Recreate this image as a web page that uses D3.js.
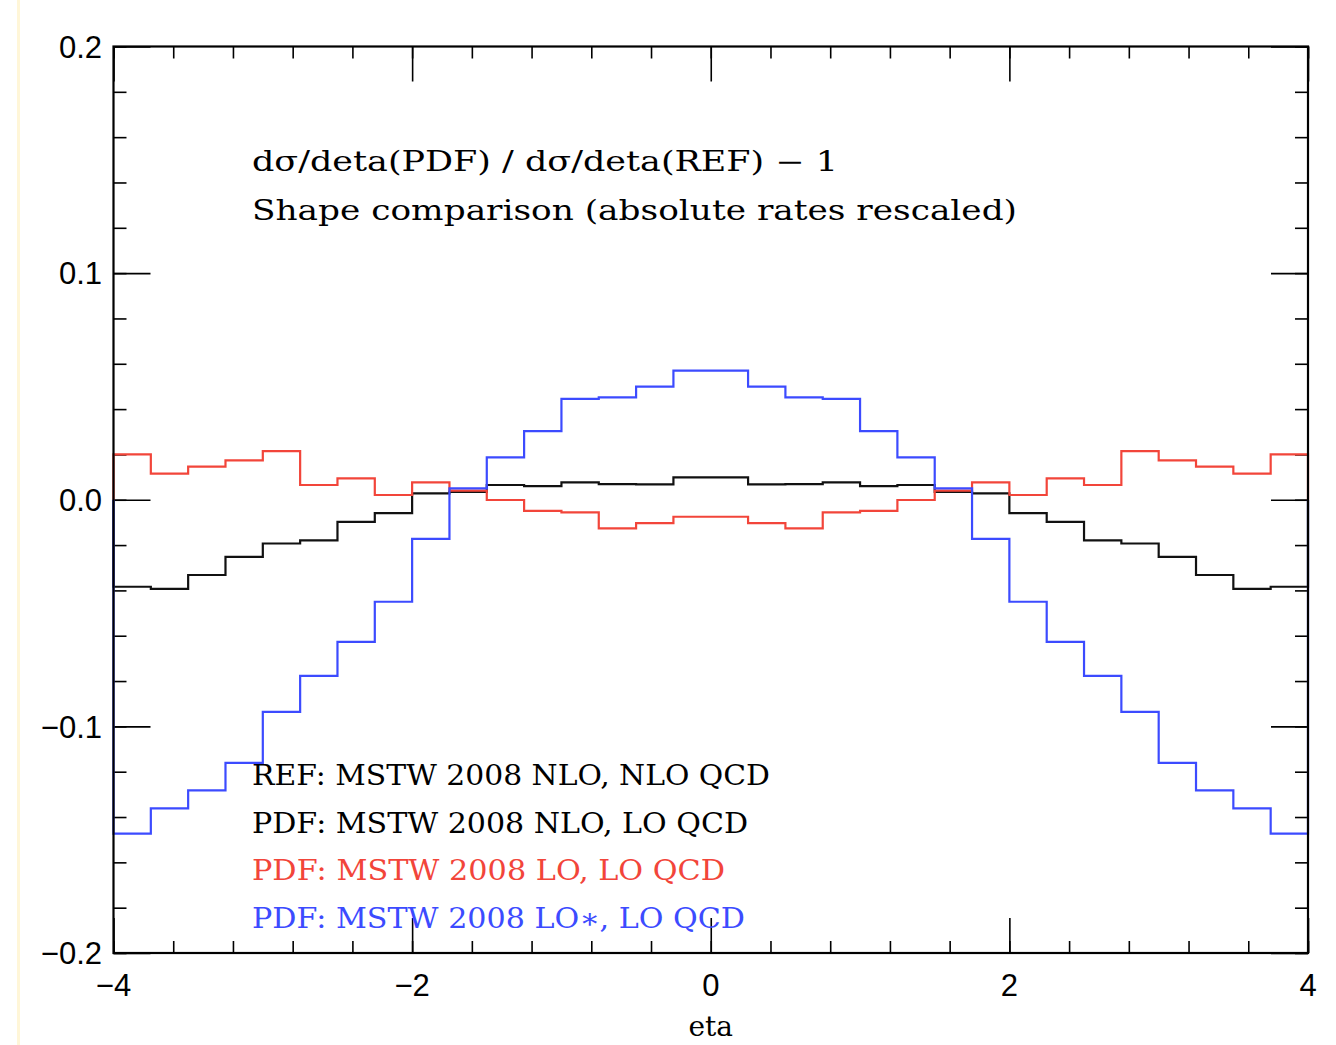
<!DOCTYPE html>
<html>
<head>
<meta charset="utf-8">
<script src="https://cdn.jsdelivr.net/npm/d3@7"></script>
<style>
  body { margin: 0; background: #fff; }
  svg { display: block; }
</style>
</head>
<body>
<div class="canvas"></div>
<script>
// bin edges: 32 bins of 0.25 from -4 to 4
const binEdges = d3.range(33).map(i => -4 + i * 0.25);

// ratio - 1 per bin
const refNloLo = [-0.0384, -0.0393, -0.0332, -0.0252, -0.0193, -0.0179, -0.0098, -0.0059,
                  0.0028, 0.0035, 0.0065, 0.0060, 0.0077, 0.0069, 0.0068, 0.0099,
                  0.0099, 0.0068, 0.0069, 0.0077, 0.0060, 0.0065, 0.0035, 0.0028,
                  -0.0059, -0.0098, -0.0179, -0.0193, -0.0252, -0.0332, -0.0393, -0.0384];
const loLo     = [0.0200, 0.0115, 0.0146, 0.0174, 0.0215, 0.0065, 0.0094, 0.0021,
                  0.0077, 0.0040, -0.0001, -0.0049, -0.0056, -0.0126, -0.0103, -0.0075,
                  -0.0075, -0.0103, -0.0126, -0.0056, -0.0049, -0.0001, 0.0040, 0.0077,
                  0.0021, 0.0094, 0.0065, 0.0215, 0.0174, 0.0146, 0.0115, 0.0200];
const loStarLo = [-0.1473, -0.1362, -0.1282, -0.1161, -0.0936, -0.0777, -0.0627, -0.0450,
                  -0.0173, 0.0050, 0.0187, 0.0303, 0.0445, 0.0452, 0.0499, 0.0570,
                  0.0570, 0.0499, 0.0452, 0.0445, 0.0303, 0.0187, 0.0050, -0.0173,
                  -0.0450, -0.0627, -0.0777, -0.0936, -0.1161, -0.1282, -0.1362, -0.1473];

const yTicks = [-0.2, -0.1, 0.0, 0.1, 0.2];
const yTickLabels = ['\u22120.2', '\u22120.1', '0.0', '0.1', '0.2'];
const xTicks = [-4, -2, 0, 2, 4];
const xTickLabels = ['\u22124', '\u22122', '0', '2', '4'];

const titleLines = ['d\u03c3/deta(PDF) / d\u03c3/deta(REF) \u2212 1',
                    'Shape comparison (absolute rates rescaled)'];
const legendLabels = ['REF: MSTW 2008 NLO, NLO QCD',
                      'PDF: MSTW 2008 NLO, LO QCD',
                      'PDF: MSTW 2008 LO, LO QCD',
                      'PDF: MSTW 2008 LO\u2217, LO QCD'];

const W = 1336, H = 1045;
const plot = {left: 113.5, right: 1308, top: 46.5, bottom: 953};
const serif = '"DejaVu Serif", serif';
const sans = '"Liberation Sans", Arial, sans-serif';

const svg = d3.select('.canvas').append('svg')
  .attr('width', W).attr('height', H);

// faint cream strip at the left edge
svg.append('rect').attr('x', 17).attr('y', 0).attr('width', 3).attr('height', H)
  .attr('fill', '#fff6d8');

const x = d3.scaleLinear().domain([-4, 4]).range([plot.left, plot.right]);
const y = d3.scaleLinear().domain([-0.2, 0.2]).range([plot.bottom, plot.top]);

// ticks (all inward)
const minorX = d3.range(21).map(i => -4 + i * 0.4);
const minorY = d3.range(21).map(i => -0.2 + i * 0.02);

const addAxis = (axis, tr) => {
  const g = svg.append('g').attr('transform', tr).call(axis);
  g.select('.domain').remove();
  g.selectAll('line').attr('stroke', '#000').attr('stroke-width', 1.6);
  return g;
};

addAxis(d3.axisBottom(x).tickValues(minorX).tickSize(-12).tickFormat(''), `translate(0,${plot.bottom})`);
addAxis(d3.axisTop(x).tickValues(minorX).tickSize(-12).tickFormat(''), `translate(0,${plot.top})`);
addAxis(d3.axisBottom(x).tickValues(xTicks).tickSize(-35).tickFormat(''), `translate(0,${plot.bottom})`);
addAxis(d3.axisTop(x).tickValues(xTicks).tickSize(-35).tickFormat(''), `translate(0,${plot.top})`);
addAxis(d3.axisLeft(y).tickValues(minorY).tickSize(-13).tickFormat(''), `translate(${plot.left},0)`);
addAxis(d3.axisRight(y).tickValues(minorY).tickSize(-13).tickFormat(''), `translate(${plot.right},0)`);
addAxis(d3.axisLeft(y).tickValues(yTicks).tickSize(-37).tickFormat(''), `translate(${plot.left},0)`);
addAxis(d3.axisRight(y).tickValues(yTicks).tickSize(-37).tickFormat(''), `translate(${plot.right},0)`);

// tick labels
svg.append('g').selectAll('text').data(yTicks).join('text')
  .attr('x', 102).attr('y', d => y(d)).attr('dy', '0.36em')
  .attr('text-anchor', 'end')
  .attr('font-family', sans).attr('font-size', 31)
  .text((d, i) => yTickLabels[i]);

svg.append('g').selectAll('text').data(xTicks).join('text')
  .attr('x', d => x(d)).attr('y', 985).attr('dy', '0.36em')
  .attr('text-anchor', 'middle')
  .attr('font-family', sans).attr('font-size', 31)
  .text((d, i) => xTickLabels[i]);

svg.append('text').attr('x', x(0)).attr('y', 1036)
  .attr('text-anchor', 'middle')
  .attr('font-family', serif).attr('font-size', 28)
  .text('eta');

// histograms
const stepLine = d3.line().x(d => x(d[0])).y(d => y(d[1])).curve(d3.curveStepAfter);
const histPts = vals => [[-4, 0], ...vals.map((v, i) => [binEdges[i], v]), [4, vals[vals.length - 1]], [4, 0]];

const series = [
  {vals: refNloLo, color: '#111'},
  {vals: loLo, color: '#f2453a'},
  {vals: loStarLo, color: '#3c4bff'}
];

svg.append('g').selectAll('path').data(series).join('path')
  .attr('d', d => stepLine(histPts(d.vals)))
  .attr('fill', 'none')
  .attr('stroke', d => d.color)
  .attr('stroke-width', 2.2);

// frame
svg.append('rect')
  .attr('x', plot.left).attr('y', plot.top)
  .attr('width', plot.right - plot.left).attr('height', plot.bottom - plot.top)
  .attr('fill', 'none').attr('stroke', '#000').attr('stroke-width', 2.2);

// annotation text
const titleY = [171, 220], titleW = [586, 765];
svg.append('g').selectAll('text').data(titleLines).join('text')
  .attr('x', 252).attr('y', (d, i) => titleY[i])
  .attr('font-family', serif).attr('font-size', 27)
  .attr('textLength', (d, i) => titleW[i]).attr('lengthAdjust', 'spacingAndGlyphs')
  .text(d => d);

const legendColors = ['#000', '#000', '#f2453a', '#3c4bff'];
const legendW = [518, 496, 473, 493];
svg.append('g').selectAll('text').data(legendLabels).join('text')
  .attr('x', 252).attr('y', (d, i) => 785 + i * 47.7)
  .attr('font-family', serif).attr('font-size', 28)
  .attr('fill', (d, i) => legendColors[i])
  .attr('textLength', (d, i) => legendW[i]).attr('lengthAdjust', 'spacingAndGlyphs')
  .text(d => d);
</script>
</body>
</html>
